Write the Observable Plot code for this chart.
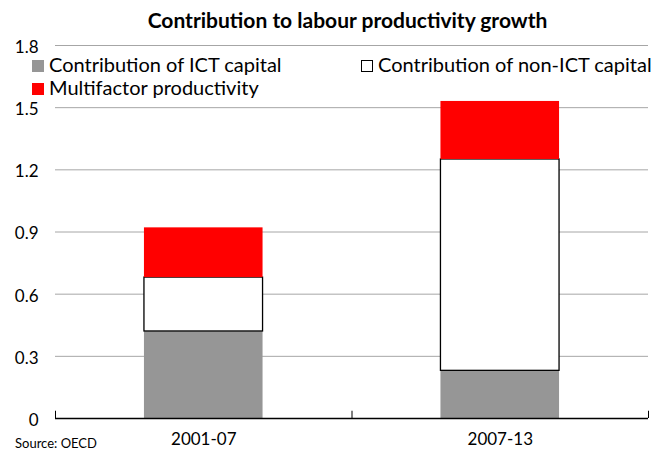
<!DOCTYPE html>
<html>
<head>
<meta charset="utf-8">
<script src="https://cdn.jsdelivr.net/npm/d3@7"></script>
<script src="https://cdn.jsdelivr.net/npm/@observablehq/plot@0.6"></script>
<style>
  body { margin: 0; background: #fff; }
  #wrap { position: relative; width: 651px; height: 453px; overflow: hidden; font-family: Lato, "Open Sans", sans-serif; color: #000; }
  #wrap svg { position: absolute; left: 0; top: 0; }
  .title { position: absolute; left: 0; width: 695px; top: 7px; text-align: center; font-weight: bold; font-size: 21px; }
  .leg { position: absolute; font-size: 20px; line-height: 22px; white-space: nowrap; }
  .sw { display: inline-block; width: 12px; height: 12px; box-sizing: border-box; margin-right: 5px; vertical-align: 0px; }
  .src { position: absolute; left: 15px; top: 436px; font-size: 13px; line-height: 15px; }
</style>
</head>
<body>
<div id="wrap"></div>
<script>
const periods = ["2001-07", "2007-13"];
const components = ["Contribution of ICT capital", "Contribution of non-ICT capital", "Multifactor productivity"];
const ictCapital = [0.42, 0.23];
const nonIctCapital = [0.26, 1.02];
const multifactor = [0.24, 0.28];
const yTicks = [0, 0.3, 0.6, 0.9, 1.2, 1.5, 1.8];
const title = "Contribution to labour productivity growth";
const source = "Source: OECD";

const fills = ["#969696", "#ffffff", "#ff0000"];
const strokes = ["none", "#000", "none"];

// Build stacked rows
const series = [ictCapital, nonIctCapital, multifactor];
const rows = [];
periods.forEach((p, i) => {
  let base = 0;
  series.forEach((s, k) => {
    rows.push({period: p, pos: i, component: components[k], k, y1: base, y2: base + s[i]});
    base += s[i];
  });
});

const barHalf = 0.2;
const chart = Plot.plot({
  width: 651,
  height: 453,
  marginTop: 45,
  marginBottom: 35,
  marginLeft: 55,
  marginRight: 3,
  style: {fontFamily: "Lato, 'Open Sans', sans-serif", background: "transparent"},
  x: {domain: [0, periods.length], axis: null},
  y: {domain: [0, 1.8], axis: null},
  marks: [
    Plot.ruleY(yTicks.filter(d => d > 0), {stroke: "#a6a6a6", strokeWidth: 1}),
    Plot.rect(rows, {
      x1: d => d.pos + 0.5 - barHalf,
      x2: d => d.pos + 0.5 + barHalf,
      y1: "y1", y2: "y2",
      fill: d => fills[d.k],
      stroke: d => strokes[d.k],
      strokeWidth: 1.3
    }),
    Plot.ruleY([0], {stroke: "#000", strokeWidth: 1.3}),
    Plot.ruleX(d3.range(periods.length + 1), {y1: 0, y2: 0.035, stroke: "#000", strokeWidth: 1}),
    Plot.axisY({ticks: yTicks, tickSize: 0, tickPadding: 17, fontSize: 17, tickFormat: d => String(d), dy: 2}),
    Plot.axisX({ticks: periods.map((p, i) => i + 0.5), tickFormat: (d) => periods[Math.floor(d)], tickSize: 0, tickPadding: 14, fontSize: 17})
  ]
});

const wrap = document.getElementById("wrap");
wrap.appendChild(chart);

const t = document.createElement("div");
t.className = "title";
t.textContent = title;
wrap.appendChild(t);

const legPos = [[32, 53], [361, 53], [32, 76]];
components.forEach((c, k) => {
  const d = document.createElement("div");
  d.className = "leg";
  d.style.left = legPos[k][0] + "px";
  d.style.top = legPos[k][1] + "px";
  const sw = document.createElement("span");
  sw.className = "sw";
  sw.style.background = fills[k];
  if (k === 1) sw.style.border = "1px solid #000";
  d.appendChild(sw);
  d.appendChild(document.createTextNode(c));
  wrap.appendChild(d);
});

const s = document.createElement("div");
s.className = "src";
s.textContent = source;
wrap.appendChild(s);
</script>
</body>
</html>
